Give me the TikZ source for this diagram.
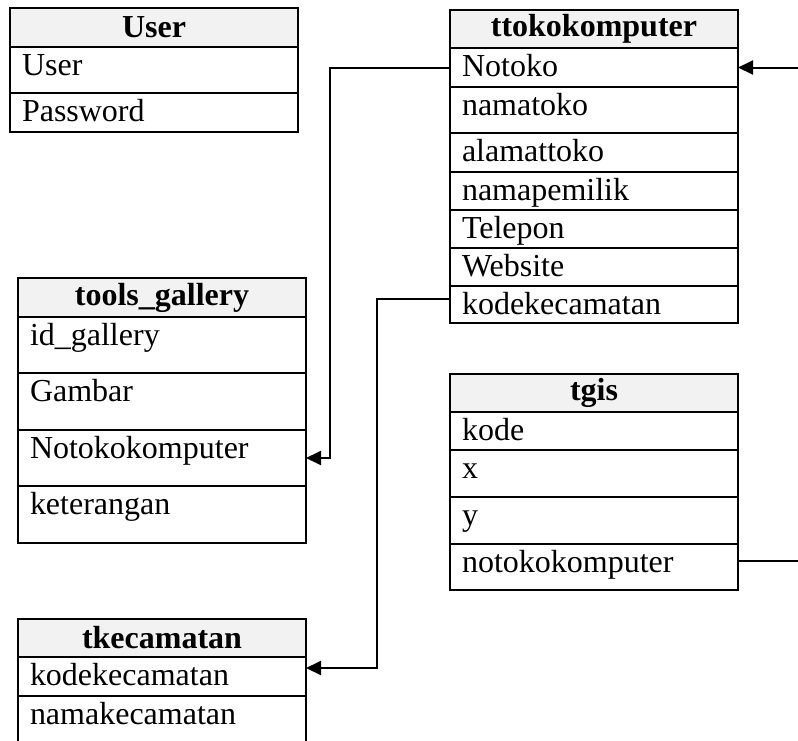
\documentclass[tikz,border=0pt]{standalone}
\usepackage{fontspec}
\setmainfont{Liberation Serif}
\usetikzlibrary{positioning,arrows.meta}
\definecolor{headgray}{RGB}{242,242,242}

\begin{document}
\begin{tikzpicture}[x=0.5pt,y=-0.5pt,
  tabhead/.style={draw, line width=1pt, fill=headgray, minimum width=144pt, minimum height=#1,
    inner sep=0pt, outer sep=0pt, anchor=north west, font=\fontsize{16}{19}\selectfont\bfseries},
  tabrow/.style={draw, line width=1pt, text width=132pt, inner xsep=6pt, inner ysep=0pt,
    outer sep=0pt, text height=14pt, text depth=#1, align=left, font=\fontsize{16}{19}\selectfont},
  fk/.style={draw, line width=1pt, -{Triangle[length=7.5pt,width=7pt]}}]
\clip (0,0) rectangle (798,740);
% User
\node[tabhead=19.5pt] (user0) at (10,8) {User};
\node[tabrow=9pt, below=0pt of user0] (user1) {User};
\node[tabrow=5.5pt, below=0pt of user1] (user2) {Password};
% ttokokomputer
\node[tabhead=19pt] (toko0) at (450,10) {ttokokomputer};
\node[tabrow=5.5pt, below=0pt of toko0] (toko1) {Notoko};
\node[tabrow=9pt, below=0pt of toko1] (toko2) {namatoko};
\node[tabrow=5.5pt, below=0pt of toko2] (toko3) {alamattoko};
\node[tabrow=5pt, below=0pt of toko3] (toko4) {namapemilik};
\node[tabrow=5pt, below=0pt of toko4] (toko5) {Telepon};
\node[tabrow=5pt, below=0pt of toko5] (toko6) {Website};
\node[tabrow=4.5pt, below=0pt of toko6] (toko7) {kodekecamatan};
% tools_gallery
\node[tabhead=19.5pt] (gallery0) at (18,278) {tools\_gallery};
\node[tabrow=14pt, below=0pt of gallery0] (gallery1) {id\_gallery};
\node[tabrow=14.5pt, below=0pt of gallery1] (gallery2) {Gambar};
\node[tabrow=14pt, below=0pt of gallery2] (gallery3) {Notokokomputer};
\node[tabrow=14.5pt, below=0pt of gallery3] (gallery4) {keterangan};
% tgis
\node[tabhead=19pt] (tgis0) at (450,374) {tgis};
\node[tabrow=5pt, below=0pt of tgis0] (tgis1) {kode};
\node[tabrow=9.5pt, below=0pt of tgis1] (tgis2) {x};
\node[tabrow=9.5pt, below=0pt of tgis2] (tgis3) {y};
\node[tabrow=9pt, below=0pt of tgis3] (tgis4) {notokokomputer};
% tkecamatan
\node[tabhead=19pt] (tkec0) at (18,619) {tkecamatan};
\node[tabrow=5.5pt, below=0pt of tkec0] (tkec1) {kodekecamatan};
\node[tabrow=16pt, below=0pt of tkec1] (tkec2) {namakecamatan};
% relations
\coordinate (laneA) at (330,200);
\coordinate (laneB) at (377,400);
\coordinate (laneC) at (815,300);
\draw[fk] (toko1.west) -| (laneA) |- (gallery3.east);
\draw[fk] ([yshift=2.75pt]toko7.west) -| (laneB) |- ([yshift=4.25pt]tkec1.east);
\draw[fk] ([yshift=3pt]tgis4.east) -| (laneC) |- (toko1.east);
\end{tikzpicture}
\end{document}
